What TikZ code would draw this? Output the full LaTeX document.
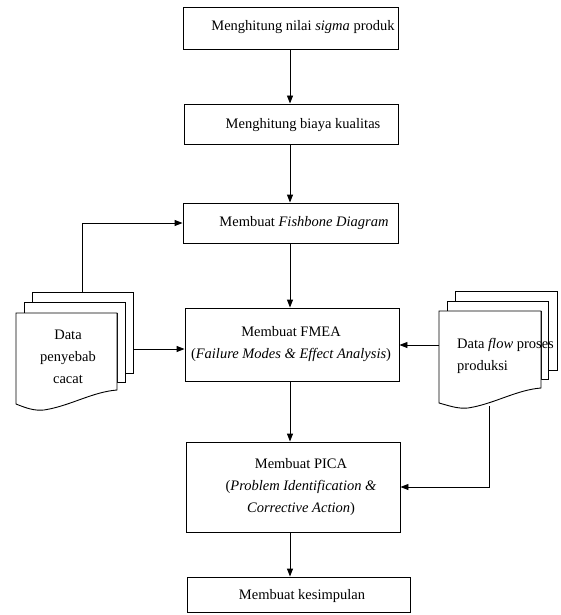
\documentclass[tikz,border=0pt]{standalone}
\usepackage{fontspec}
\setmainfont{Liberation Serif}
\usetikzlibrary{arrows.meta}
\begin{document}
\begin{tikzpicture}[x=1pt,y=-1pt,
  box/.style={draw,line width=0.9pt,inner sep=0pt},
  txt/.style={inner sep=0pt,font=\fontsize{14.5}{22}\selectfont,align=center},
  conn/.style={line width=0.9pt},
  arr/.style={line width=0.9pt,-{Triangle[length=8pt,width=6pt]}},
  sheet/.style={draw,line width=0.9pt,fill=white}]
\useasboundingbox (0,0) rectangle (560,615);
% process boxes
\node[box,minimum width=215pt,minimum height=42pt] (b1) at (290.5,28) {};
\node[box,minimum width=214pt,minimum height=40pt] (b2) at (291,124) {};
\node[box,minimum width=215pt,minimum height=40pt] (b3) at (290.5,223) {};
\node[box,minimum width=214pt,minimum height=73pt] (b4) at (292,344.5) {};
\node[box,minimum width=214pt,minimum height=90pt] (b5) at (293,487) {};
\node[box,minimum width=223pt,minimum height=35pt] (b6) at (298.5,594.5) {};
% texts
\node[txt] (t1) at (303,27) {Menghitung nilai \textit{sigma} produk};
\node[txt] (t2) at (303,125) {Menghitung biaya kualitas};
\node[txt] (t3) at (304,223) {Membuat \textit{Fishbone Diagram}};
\node[txt] (t4) at (291,344) {Membuat FMEA\\(\textit{Failure Modes \& Effect Analysis})};
\node[txt] (t5) at (301,487) {Membuat PICA\\(\textit{Problem Identification \&}\\\textit{Corrective Action})};
\node[txt] (t6) at (302,596) {Membuat kesimpulan};
% left multi-document
\draw[sheet] (32,292) -- (133,292) -- (133,373) -- (125,373) -- (125,302) -- (32,302) -- cycle;
\draw[sheet] (24,302) -- (125,302) -- (125,382) -- (117,382) -- (117,313) -- (24,313) -- cycle;
\draw[sheet] (16,313) -- (117,313) -- (117,390)
  .. controls (92,392) and (70,406) .. (44,410)
  .. controls (34,411) and (26,408) .. (16,404) -- cycle;
\node[txt] (ld) at (68,357) {Data\\penyebab\\cacat};
% right multi-document
\draw[sheet] (455,291) -- (557,291) -- (557,370) -- (548,370) -- (548,301) -- (455,301) -- cycle;
\draw[sheet] (447,301) -- (548,301) -- (548,379) -- (541,379) -- (541,311) -- (447,311) -- cycle;
\draw[sheet] (439,311) -- (541,311) -- (541,388)
  .. controls (516,390) and (494,404) .. (468,408)
  .. controls (458,409) and (450,406) .. (439,403) -- cycle;
\node[txt,align=left,anchor=west] (rd) at (457,356) {Data \textit{flow} proses\\produksi};
% anchor coordinates of documents
\coordinate (ldtop) at (82,292);
\coordinate (ldright) at (133,349);
\coordinate (rdleft) at (439,345);
\coordinate (rdbot) at (489,406);
\coordinate (ax) at (290,0);
% connectors
\draw[arr] (b1.south -| ax) -- (b2.north -| ax);
\draw[arr] (b2.south -| ax) -- (b3.north -| ax);
\draw[arr] (b3.south -| ax) -- (b4.north -| ax);
\draw[arr] (b4.south -| ax) -- (b5.north -| ax);
\draw[arr] (b5.south -| ax) -- (b6.north -| ax);
\draw[arr] (ldtop) |- (b3.west);
\draw[arr] (ldright) -- (b4.west |- ldright);
\draw[arr] (rdleft) -- (b4.east |- rdleft);
\draw[arr] (rdbot) |- (b5.east);
\end{tikzpicture}
\end{document}
